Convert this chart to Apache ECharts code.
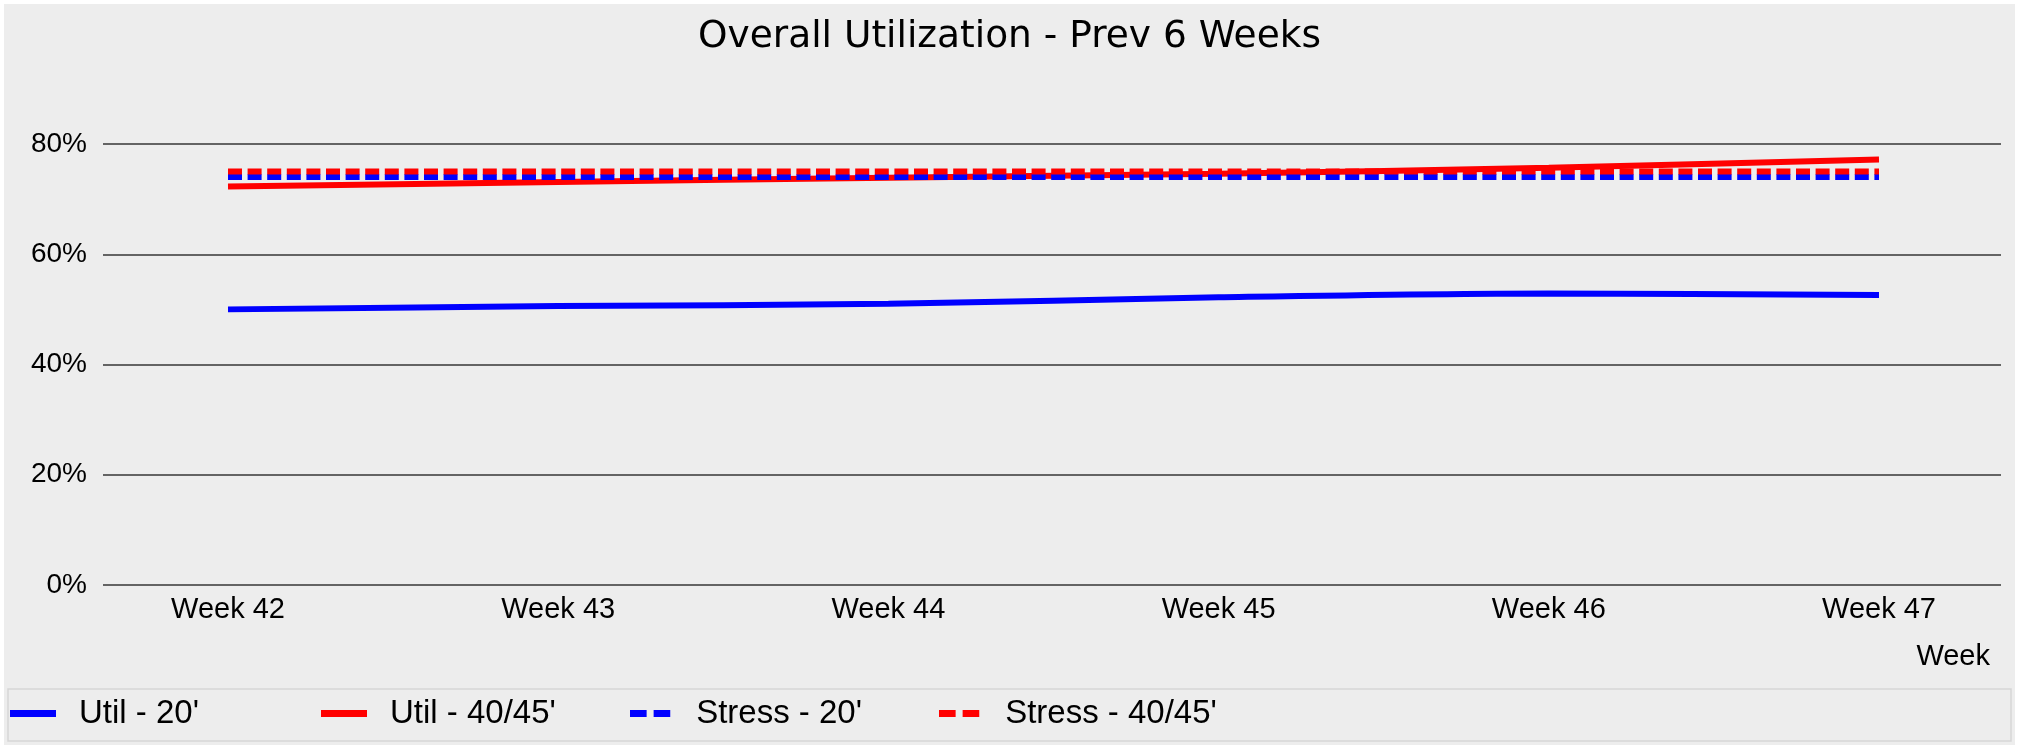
<!DOCTYPE html>
<html>
<head>
<meta charset="utf-8">
<title>Overall Utilization</title>
<script src="https://cdn.jsdelivr.net/npm/echarts@6/dist/echarts.min.js"></script>
<style>
    html, body { margin: 0; padding: 0; background: #ffffff; }
    #main { position: absolute; left: 4px; top: 4px; width: 2011px; height: 741px; }
</style>
</head>
<body>
<div id="main"></div>
<script>
// week categories
const weeks = ['Week 42', 'Week 43', 'Week 44', 'Week 45', 'Week 46', 'Week 47'];
// values in %
const util20 = [50.0, 50.6, 51.0, 52.2, 52.9, 52.6];
const util4045 = [72.3, 73.1, 73.9, 74.6, 75.7, 77.2];
const stress20 = [74, 74, 74, 74, 74, 74];
const stress4045 = [75, 75, 75, 75, 75, 75];
const yTicks = [0, 20, 40, 60, 80];
const seriesNames = ["Util - 20'", "Util - 40/45'", "Stress - 20'", "Stress - 40/45'"];

const labelFont = 'Liberation Sans, Arial, sans-serif';
const gridColor = '#646464';
const dash = [14, 5.6];
// legend icons: solid bar / two dashes
const solidIcon = 'rect';
const dashIcon = 'path://M0 0H19V8H0Z M27 0H46V8H27Z';
const legendLeft = [6, 317, 626, 935];

// one legend per item so the columns sit at fixed positions like the original
let legends = [];
for (let i = 0; i < seriesNames.length; i++) {
    legends.push({
        left: legendLeft[i],
        top: 693,
        padding: 0,
        itemWidth: 46,
        itemHeight: 7,
        icon: i < 2 ? solidIcon : dashIcon,
        textStyle: {
            fontFamily: labelFont,
            fontSize: 33,
            color: '#000',
            padding: [0, 0, 0, 18]
        },
        data: [seriesNames[i]]
    });
}

let option = {
    backgroundColor: '#ededed',
    animation: false,
    title: {
        text: 'Overall Utilization - Prev 6 Weeks',
        left: 'center',
        top: 9,
        textStyle: {
            fontFamily: 'DejaVu Sans',
            fontSize: 37.5,
            fontWeight: 'normal',
            color: '#000'
        }
    },
    legend: legends,
    graphic: [
        {
            type: 'rect',
            shape: { x: 4, y: 685, width: 2003, height: 52 },
            style: { fill: 'none', stroke: '#d6d6d6', lineWidth: 1.5 },
            silent: true
        }
    ],
    grid: [
        // gridlines + y labels
        { left: 102, right: 14, top: 140, bottom: 160 },
        // data area
        { left: 224, right: 136, top: 140, bottom: 160 }
    ],
    xAxis: [
        { type: 'value', gridIndex: 0, show: false, min: 0, max: 1 },
        {
            type: 'category',
            gridIndex: 1,
            data: weeks,
            boundaryGap: false,
            axisLine: { show: false },
            axisTick: { show: false },
            axisLabel: {
                margin: 10,
                fontFamily: labelFont,
                fontSize: 29,
                color: '#000'
            },
            name: 'Week',
            nameLocation: 'end',
            nameGap: 111,
            nameTextStyle: {
                fontFamily: labelFont,
                fontSize: 29,
                color: '#000',
                align: 'right',
                verticalAlign: 'top',
                padding: [57, 0, 0, 0]
            }
        }
    ],
    yAxis: [
        {
            type: 'value',
            gridIndex: 0,
            min: yTicks[0],
            max: yTicks[yTicks.length - 1],
            interval: 20,
            axisLine: { show: false },
            axisTick: { show: true, length: 3, lineStyle: { color: gridColor, width: 2 } },
            axisLabel: {
                margin: 19,
                formatter: '{value}%',
                fontFamily: labelFont,
                fontSize: 28,
                color: '#000'
            },
            splitLine: { lineStyle: { color: gridColor, width: 2 } }
        },
        {
            type: 'value',
            gridIndex: 1,
            min: yTicks[0],
            max: yTicks[yTicks.length - 1],
            show: false,
            splitLine: { show: false }
        }
    ],
    series: [
        {
            name: seriesNames[0],
            type: 'line',
            xAxisIndex: 1, yAxisIndex: 1,
            data: util20,
            smooth: 0.3,
            symbol: 'none',
            color: '#0000ff',
            lineStyle: { width: 6, color: '#0000ff' }
        },
        {
            name: seriesNames[1],
            type: 'line',
            xAxisIndex: 1, yAxisIndex: 1,
            data: util4045,
            smooth: 0.3,
            symbol: 'none',
            color: '#ff0000',
            lineStyle: { width: 6, color: '#ff0000' }
        },
        {
            name: seriesNames[2],
            type: 'line',
            xAxisIndex: 1, yAxisIndex: 1,
            data: stress20,
            symbol: 'none',
            color: '#0000ff',
            lineStyle: { width: 6, color: '#0000ff', type: dash }
        },
        {
            name: seriesNames[3],
            type: 'line',
            xAxisIndex: 1, yAxisIndex: 1,
            data: stress4045,
            symbol: 'none',
            color: '#ff0000',
            lineStyle: { width: 6, color: '#ff0000', type: dash }
        }
    ]
};

let myChart = echarts.init(document.getElementById('main'));
myChart.setOption(option);
</script>
</body>
</html>
